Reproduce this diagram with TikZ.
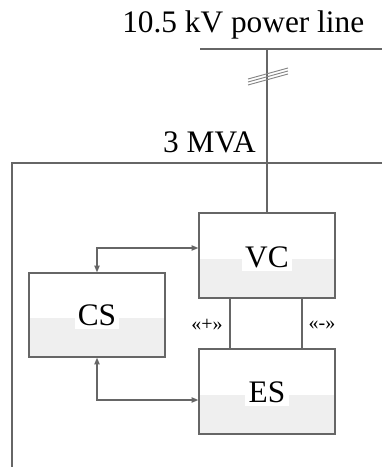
\documentclass[tikz,border=0pt]{standalone}
\usepackage{fontspec}
\setmainfont{Liberation Serif}
\usetikzlibrary{arrows.meta}
\definecolor{ln}{HTML}{666666}
\definecolor{fillg}{HTML}{EFEFEF}
\begin{document}
\begin{tikzpicture}[x=0.75pt,y=-0.75pt,
  wire/.style={draw=ln,line width=1.1pt},
  blk/.style={draw=ln,line width=1.1pt},
  lbl/.style={fill=white,inner sep=2.5pt,font=\fontsize{23.5}{26}\selectfont},
  small/.style={font=\fontsize{15}{17}\selectfont,inner sep=0pt},
  big/.style={font=\fontsize{23.5}{26}\selectfont,inner sep=0pt},
  arr/.style={draw=ln,line width=0.9pt,{Triangle[length=5pt,width=4pt]}-{Triangle[length=5pt,width=4pt]}}]
\useasboundingbox (0,0) rectangle (382,467);
% boxes: lower gray half
\fill[fillg] (199,259) rectangle (335,298);
\fill[fillg] (29,318) rectangle (165,357);
\fill[fillg] (199,395) rectangle (335,434);
\node[blk,minimum width=136*0.75pt,minimum height=85*0.75pt,inner sep=0pt] (vcb) at (267,255.5) {};
\node[blk,minimum width=136*0.75pt,minimum height=84*0.75pt,inner sep=0pt] (csb) at (97,315) {};
\node[blk,minimum width=136*0.75pt,minimum height=85*0.75pt,inner sep=0pt] (esb) at (267,391.5) {};
\node[lbl] (vc) at (267,257) {VC};
\node[lbl] (cs) at (97,315) {CS};
\node[lbl] (es) at (267,392) {ES};
% texts
\node[big,anchor=base west] (title) at (122,33) {10.5 kV power line};
\node[big,anchor=base east] (mva) at (256,152) {3 MVA};
\node[small] (plus) at (207,325) {«+»};
\node[small] (minus) at (322,325) {«-»};
% lines
\coordinate (lineL) at (200,49);
\coordinate (lineR) at (382,49);
\draw[wire] (lineL) -- (lineR);
\coordinate (frTR) at (382,163);
\coordinate (frTL) at (12,163);
\coordinate (frBL) at (12,467);
\draw[wire] (frTR) -- (frTL) -- (frBL);
\draw[wire] (267,49) -- (vcb.north);
% triple slash
\foreach \d in {-3,0,3}
  \draw[ln!80,line width=0.7pt] (248,82+\d) -- (288,71+\d);
% VC-ES links
\draw[wire] (vcb.south -| 230,0) -- (esb.north -| 230,0);
\draw[wire] (vcb.south -| 302,0) -- (esb.north -| 302,0);
% arrows
\draw[arr] (csb.north) -- (97,248) -- (vcb.west |- 0,248);
\draw[arr] (csb.south) -- (97,400) -- (esb.west |- 0,400);
\end{tikzpicture}
\end{document}
